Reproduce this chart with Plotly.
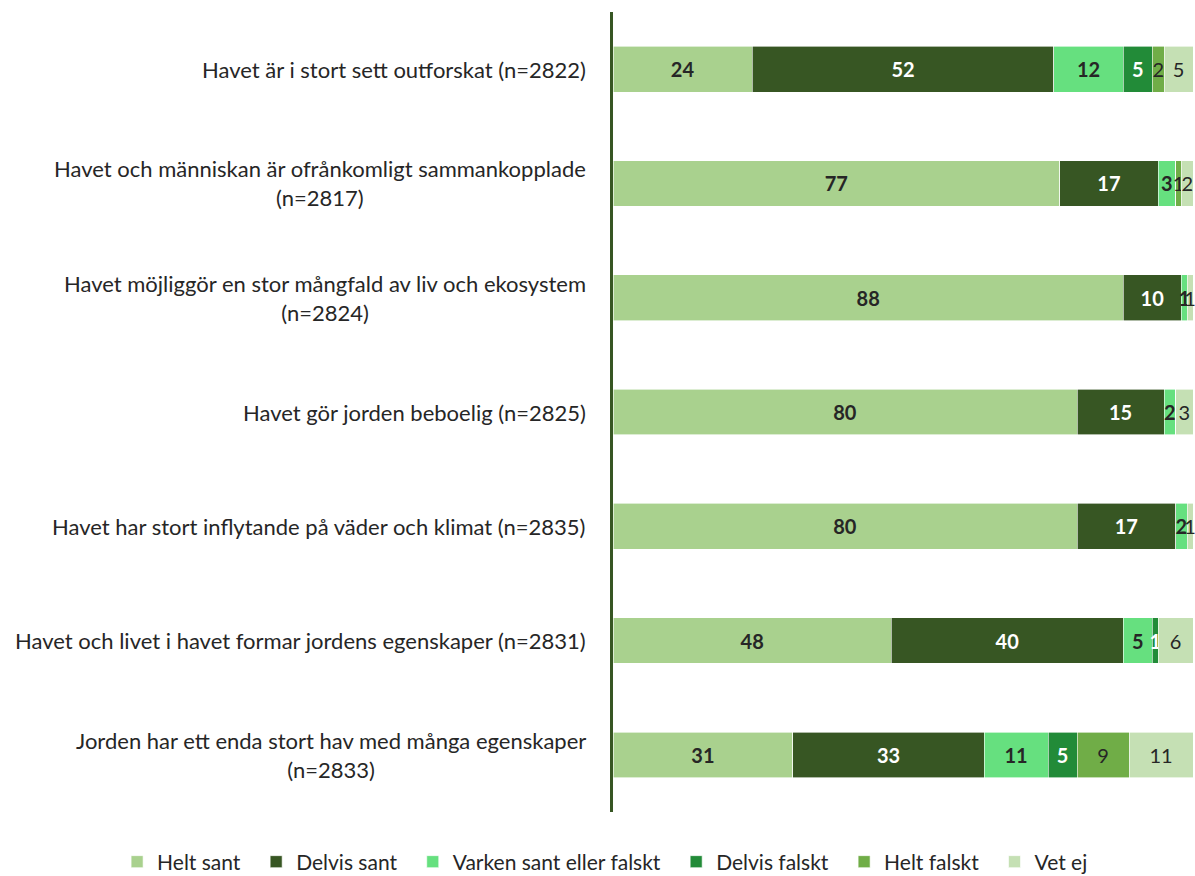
import plotly.graph_objects as go

categories = [
    "Havet är i stort sett outforskat (n=2822)",
    "Havet och människan är ofrånkomligt sammankopplade<br>(n=2817)",
    "Havet möjliggör en stor mångfald av liv och ekosystem<br>(n=2824)",
    "Havet gör jorden beboelig (n=2825)",
    "Havet har stort inflytande på väder och klimat (n=2835)",
    "Havet och livet i havet formar jordens egenskaper (n=2831)",
    "Jorden har ett enda stort hav med många egenskaper<br>(n=2833)",
]
series_names = ["Helt sant", "Delvis sant", "Varken sant eller falskt", "Delvis falskt", "Helt falskt", "Vet ej"]
helt_sant = [24, 77, 88, 80, 80, 48, 31]
delvis_sant = [52, 17, 10, 15, 17, 40, 33]
varken = [12, 3, 1, 2, 2, 5, 11]
delvis_falskt = [5, 0, 0, 0, 0, 1, 5]
helt_falskt = [2, 1, 0, 0, 0, 0, 9]
vet_ej = [5, 2, 1, 3, 1, 6, 11]

values = [helt_sant, delvis_sant, varken, delvis_falskt, helt_falskt, vet_ej]
colors = ["#A9D18E", "#375623", "#66E07F", "#228B38", "#70AD47", "#C5E0B4"]
text_colors = ["#262626", "#FFFFFF", "#262626", "#FFFFFF", "#262626", "#262626"]
bold = [True, True, True, True, False, False]

keys = [f"c{i}" for i in range(len(categories))]
FONT = "Lato"
PAD = "\u00a0\u00a0"

fig = go.Figure()
for i, (name, vals, col, tcol, b) in enumerate(zip(series_names, values, colors, text_colors, bold)):
    txt = [("<b>%d</b>" % v if b else "%d" % v) if v > 0 else "" for v in vals]
    fig.add_trace(go.Bar(
        name=name + (PAD if i < len(series_names) - 1 else ""), y=keys, x=vals, orientation="h",
        marker=dict(color=col, line=dict(color="white", width=0.6)),
        text=txt, textposition="inside", insidetextanchor="middle",
        textangle=0, constraintext="none", cliponaxis=False,
        textfont=dict(color=tcol, size=20, family=FONT),
        hoverinfo="skip",
    ))

for k, c in zip(keys, categories):
    fig.add_annotation(
        x=-0.043, xref="paper", y=k, yref="y", text=c,
        xanchor="right", yanchor="middle", align="center", showarrow=False,
        font=dict(size=22, family=FONT, color="#262626"),
    )

fig.update_layout(
    width=1195, height=876,
    barmode="stack", bargap=0.6,
    plot_bgcolor="white", paper_bgcolor="white",
    margin=dict(l=613, r=2, t=12, b=64, autoexpand=False),
    uniformtext=dict(minsize=20, mode="show"),
    showlegend=True,
    legend=dict(orientation="h", x=-0.855, xanchor="left",
                y=-0.0625, yanchor="middle",
                font=dict(size=21, family=FONT, color="#262626"),
                traceorder="normal", itemwidth=30),
    font=dict(family=FONT),
)
fig.update_xaxes(range=[0, 100], showgrid=False, zeroline=False, showticklabels=False, ticks="")
fig.update_yaxes(autorange="reversed", showgrid=False, showticklabels=False, ticks="",
                 showline=True, linecolor="#375623", linewidth=3)

fig.write_html("out.html", config={"displayModeBar": False},
               post_script="document.body.style.margin='0';document.body.style.overflow='hidden';")
